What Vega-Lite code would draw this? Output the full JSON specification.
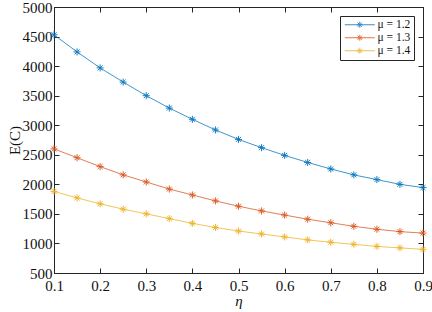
{
  "$schema": "https://vega.github.io/schema/vega-lite/v6.json",
  "width": 369,
  "height": 266,
  "autosize": "none",
  "padding": {"left": 54, "top": 7, "right": 9, "bottom": 39},
  "background": "white",
  "config": {
    "font": "Liberation Serif",
    "view": {"stroke": "#262626", "strokeWidth": 1},
    "axis": {
      "grid": false,
      "domainColor": "#262626",
      "tickColor": "#262626",
      "labelColor": "#111111",
      "titleColor": "#111111",
      "labelFont": "Liberation Serif",
      "titleFont": "Liberation Serif",
      "labelFontSize": 15,
      "titleFontSize": 15,
      "titleFontWeight": "normal",
      "tickSize": -5,
      "labelPadding": 10,
      "labelFlush": false
    },
    "legend": {
      "labelFont": "Liberation Serif"
    }
  },
  "data": {
    "values": [
      {"eta": 0.1, "E": 4530, "mu": "μ = 1.2"},
      {"eta": 0.15, "E": 4240, "mu": "μ = 1.2"},
      {"eta": 0.2, "E": 3970, "mu": "μ = 1.2"},
      {"eta": 0.25, "E": 3730, "mu": "μ = 1.2"},
      {"eta": 0.3, "E": 3500, "mu": "μ = 1.2"},
      {"eta": 0.35, "E": 3290, "mu": "μ = 1.2"},
      {"eta": 0.4, "E": 3100, "mu": "μ = 1.2"},
      {"eta": 0.45, "E": 2920, "mu": "μ = 1.2"},
      {"eta": 0.5, "E": 2760, "mu": "μ = 1.2"},
      {"eta": 0.55, "E": 2620, "mu": "μ = 1.2"},
      {"eta": 0.6, "E": 2490, "mu": "μ = 1.2"},
      {"eta": 0.65, "E": 2370, "mu": "μ = 1.2"},
      {"eta": 0.7, "E": 2260, "mu": "μ = 1.2"},
      {"eta": 0.75, "E": 2160, "mu": "μ = 1.2"},
      {"eta": 0.8, "E": 2080, "mu": "μ = 1.2"},
      {"eta": 0.85, "E": 2000, "mu": "μ = 1.2"},
      {"eta": 0.9, "E": 1945, "mu": "μ = 1.2"},
      {"eta": 0.1, "E": 2600, "mu": "μ = 1.3"},
      {"eta": 0.15, "E": 2450, "mu": "μ = 1.3"},
      {"eta": 0.2, "E": 2300, "mu": "μ = 1.3"},
      {"eta": 0.25, "E": 2160, "mu": "μ = 1.3"},
      {"eta": 0.3, "E": 2040, "mu": "μ = 1.3"},
      {"eta": 0.35, "E": 1920, "mu": "μ = 1.3"},
      {"eta": 0.4, "E": 1820, "mu": "μ = 1.3"},
      {"eta": 0.45, "E": 1720, "mu": "μ = 1.3"},
      {"eta": 0.5, "E": 1630, "mu": "μ = 1.3"},
      {"eta": 0.55, "E": 1550, "mu": "μ = 1.3"},
      {"eta": 0.6, "E": 1480, "mu": "μ = 1.3"},
      {"eta": 0.65, "E": 1410, "mu": "μ = 1.3"},
      {"eta": 0.7, "E": 1350, "mu": "μ = 1.3"},
      {"eta": 0.75, "E": 1290, "mu": "μ = 1.3"},
      {"eta": 0.8, "E": 1240, "mu": "μ = 1.3"},
      {"eta": 0.85, "E": 1200, "mu": "μ = 1.3"},
      {"eta": 0.9, "E": 1175, "mu": "μ = 1.3"},
      {"eta": 0.1, "E": 1880, "mu": "μ = 1.4"},
      {"eta": 0.15, "E": 1770, "mu": "μ = 1.4"},
      {"eta": 0.2, "E": 1670, "mu": "μ = 1.4"},
      {"eta": 0.25, "E": 1580, "mu": "μ = 1.4"},
      {"eta": 0.3, "E": 1500, "mu": "μ = 1.4"},
      {"eta": 0.35, "E": 1420, "mu": "μ = 1.4"},
      {"eta": 0.4, "E": 1340, "mu": "μ = 1.4"},
      {"eta": 0.45, "E": 1270, "mu": "μ = 1.4"},
      {"eta": 0.5, "E": 1210, "mu": "μ = 1.4"},
      {"eta": 0.55, "E": 1160, "mu": "μ = 1.4"},
      {"eta": 0.6, "E": 1110, "mu": "μ = 1.4"},
      {"eta": 0.65, "E": 1060, "mu": "μ = 1.4"},
      {"eta": 0.7, "E": 1020, "mu": "μ = 1.4"},
      {"eta": 0.75, "E": 985, "mu": "μ = 1.4"},
      {"eta": 0.8, "E": 950, "mu": "μ = 1.4"},
      {"eta": 0.85, "E": 925, "mu": "μ = 1.4"},
      {"eta": 0.9, "E": 900, "mu": "μ = 1.4"}
    ]
  },
  "layer": [
    {
      "mark": {"type": "line", "strokeWidth": 1, "opacity": 0.75},
      "encoding": {
        "x": {"field": "eta", "type": "quantitative", "scale": {"domain": [0.1, 0.9], "nice": false},
              "axis": {"values": [0.1, 0.2, 0.3, 0.4, 0.5, 0.6, 0.7, 0.8, 0.9], "format": ".1f", "title": "η", "titleFontStyle": "italic", "titlePadding": 0}},
        "y": {"field": "E", "type": "quantitative", "scale": {"domain": [500, 5000], "nice": false, "zero": false},
              "axis": {"values": [500, 1000, 1500, 2000, 2500, 3000, 3500, 4000, 4500, 5000], "format": "d", "title": "E(C)", "labelPadding": 7, "titlePadding": 0}},
        "color": {"field": "mu", "type": "nominal",
                  "scale": {"domain": ["μ = 1.2", "μ = 1.3", "μ = 1.4"], "range": ["#0072BD", "#D95319", "#EDB120"]},
                  "legend": {
                    "title": null, "orient": "top-right", "offset": 9,
                    "strokeColor": "#262626", "fillColor": "white", "padding": 3,
                    "symbolType": "M-3,0L3,0M0,-0.6L0,0.6M-0.6,0L0.6,0M-0.42,-0.42L0.42,0.42M-0.42,0.42L0.42,-0.42",
                    "symbolSize": 100, "symbolStrokeWidth": 1, "symbolOpacity": 0.8,
                    "labelFontSize": 11.5, "labelColor": "#111111",
                    "rowPadding": 0, "labelOffset": 12, "symbolOffset": 11
                  }}
      }
    },
    {
      "mark": {"type": "point", "filled": false, "strokeWidth": 1, "size": 50, "opacity": 0.9,
               "shape": "M-1,0L1,0M0,-1L0,1M-0.7,-0.7L0.7,0.7M-0.7,0.7L0.7,-0.7"},
      "encoding": {
        "x": {"field": "eta", "type": "quantitative",
              "axis": {"orient": "top", "values": [0.1, 0.2, 0.3, 0.4, 0.5, 0.6, 0.7, 0.8, 0.9], "labels": false, "title": null}},
        "y": {"field": "E", "type": "quantitative",
              "axis": {"orient": "right", "values": [500, 1000, 1500, 2000, 2500, 3000, 3500, 4000, 4500, 5000], "labels": false, "title": null}},
        "color": {"field": "mu", "type": "nominal", "legend": null}
      }
    }
  ],
  "resolve": {"axis": {"x": "independent", "y": "independent"}}
}
